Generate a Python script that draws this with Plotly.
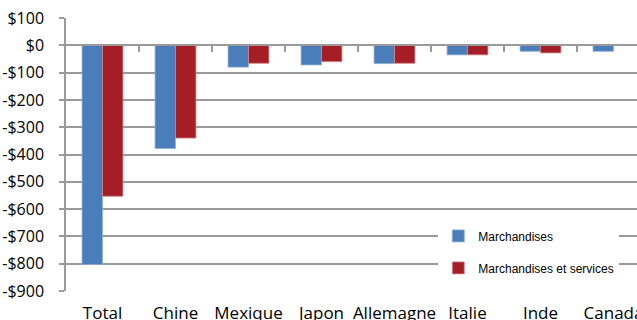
import plotly.graph_objects as go

categories = ["Total", "Chine", "Mexique", "Japon", "Allemagne", "Italie", "Inde", "Canada"]
marchandises = [-803, -378, -80, -72, -67, -35, -22, -22]
march_services = [-553, -340, -66, -60, -66, -35, -28, 0]
y_ticks = [100, 0, -100, -200, -300, -400, -500, -600, -700, -800, -900]
y_labels = ["$100", "$0", "-$100", "-$200", "-$300", "-$400", "-$500", "-$600", "-$700", "-$800", "-$900"]

BLUE = "#4A7EBB"
RED = "#A51D25"
GRID = "#9a9a9a"

fig = go.Figure()
fig.add_trace(go.Bar(x=categories, y=marchandises, name="Marchandises",
                     marker=dict(color=BLUE, line=dict(color="#8fb0d8", width=0.8)),
                     legendgroup="a"))
fig.add_trace(go.Bar(x=categories, y=march_services, name="Marchandises et services",
                     marker=dict(color=RED, line=dict(color="#d08a8e", width=0.8)),
                     legendgroup="b"))

xr = [-0.5, len(categories) - 0.5 - 13 / 73]

fig.update_layout(
    width=637, height=320,
    margin=dict(l=66, r=0, t=18, b=29),
    paper_bgcolor="white", plot_bgcolor="white",
    barmode="group", bargap=0.44, bargroupgap=0,
    font=dict(family="Open Sans", color="#000"),
    showlegend=True,
    legend=dict(x=0.652, y=0.255, xanchor="left", yanchor="top",
                bgcolor="white", font=dict(family="Liberation Sans", size=12, color="#000"),
                traceorder="grouped", tracegroupgap=13),
    xaxis=dict(type="category", range=xr, showgrid=False, showline=False, ticks="",
               tickfont=dict(family="Open Sans", size=17), zeroline=False,
               ticklabelstandoff=10, automargin=False),
    xaxis2=dict(overlaying="x", anchor="free", position=0.9, range=xr,
                tickvals=[i + 0.5 for i in range(len(categories) - 1)],
                ticks="outside", ticklen=6, tickwidth=1.5, tickcolor=GRID,
                showticklabels=False, showline=True, linecolor=GRID, linewidth=1.5,
                showgrid=False, zeroline=False, automargin=False),
    yaxis=dict(range=[-900, 100], tickvals=y_ticks, ticktext=y_labels,
               showgrid=True, gridcolor=GRID, gridwidth=1.5,
               showline=True, linecolor=GRID, linewidth=1.5,
               ticks="outside", ticklen=5, tickwidth=1.5, tickcolor=GRID,
               tickfont=dict(family="Open Sans", size=16), zeroline=False,
               ticklabelstandoff=12, automargin=False),
)
# invisible trace to activate xaxis2
fig.add_trace(go.Scatter(x=[0], y=[0], xaxis="x2", mode="markers",
                         marker=dict(opacity=0), showlegend=False, hoverinfo="skip"))

fig.write_html("out.html")
